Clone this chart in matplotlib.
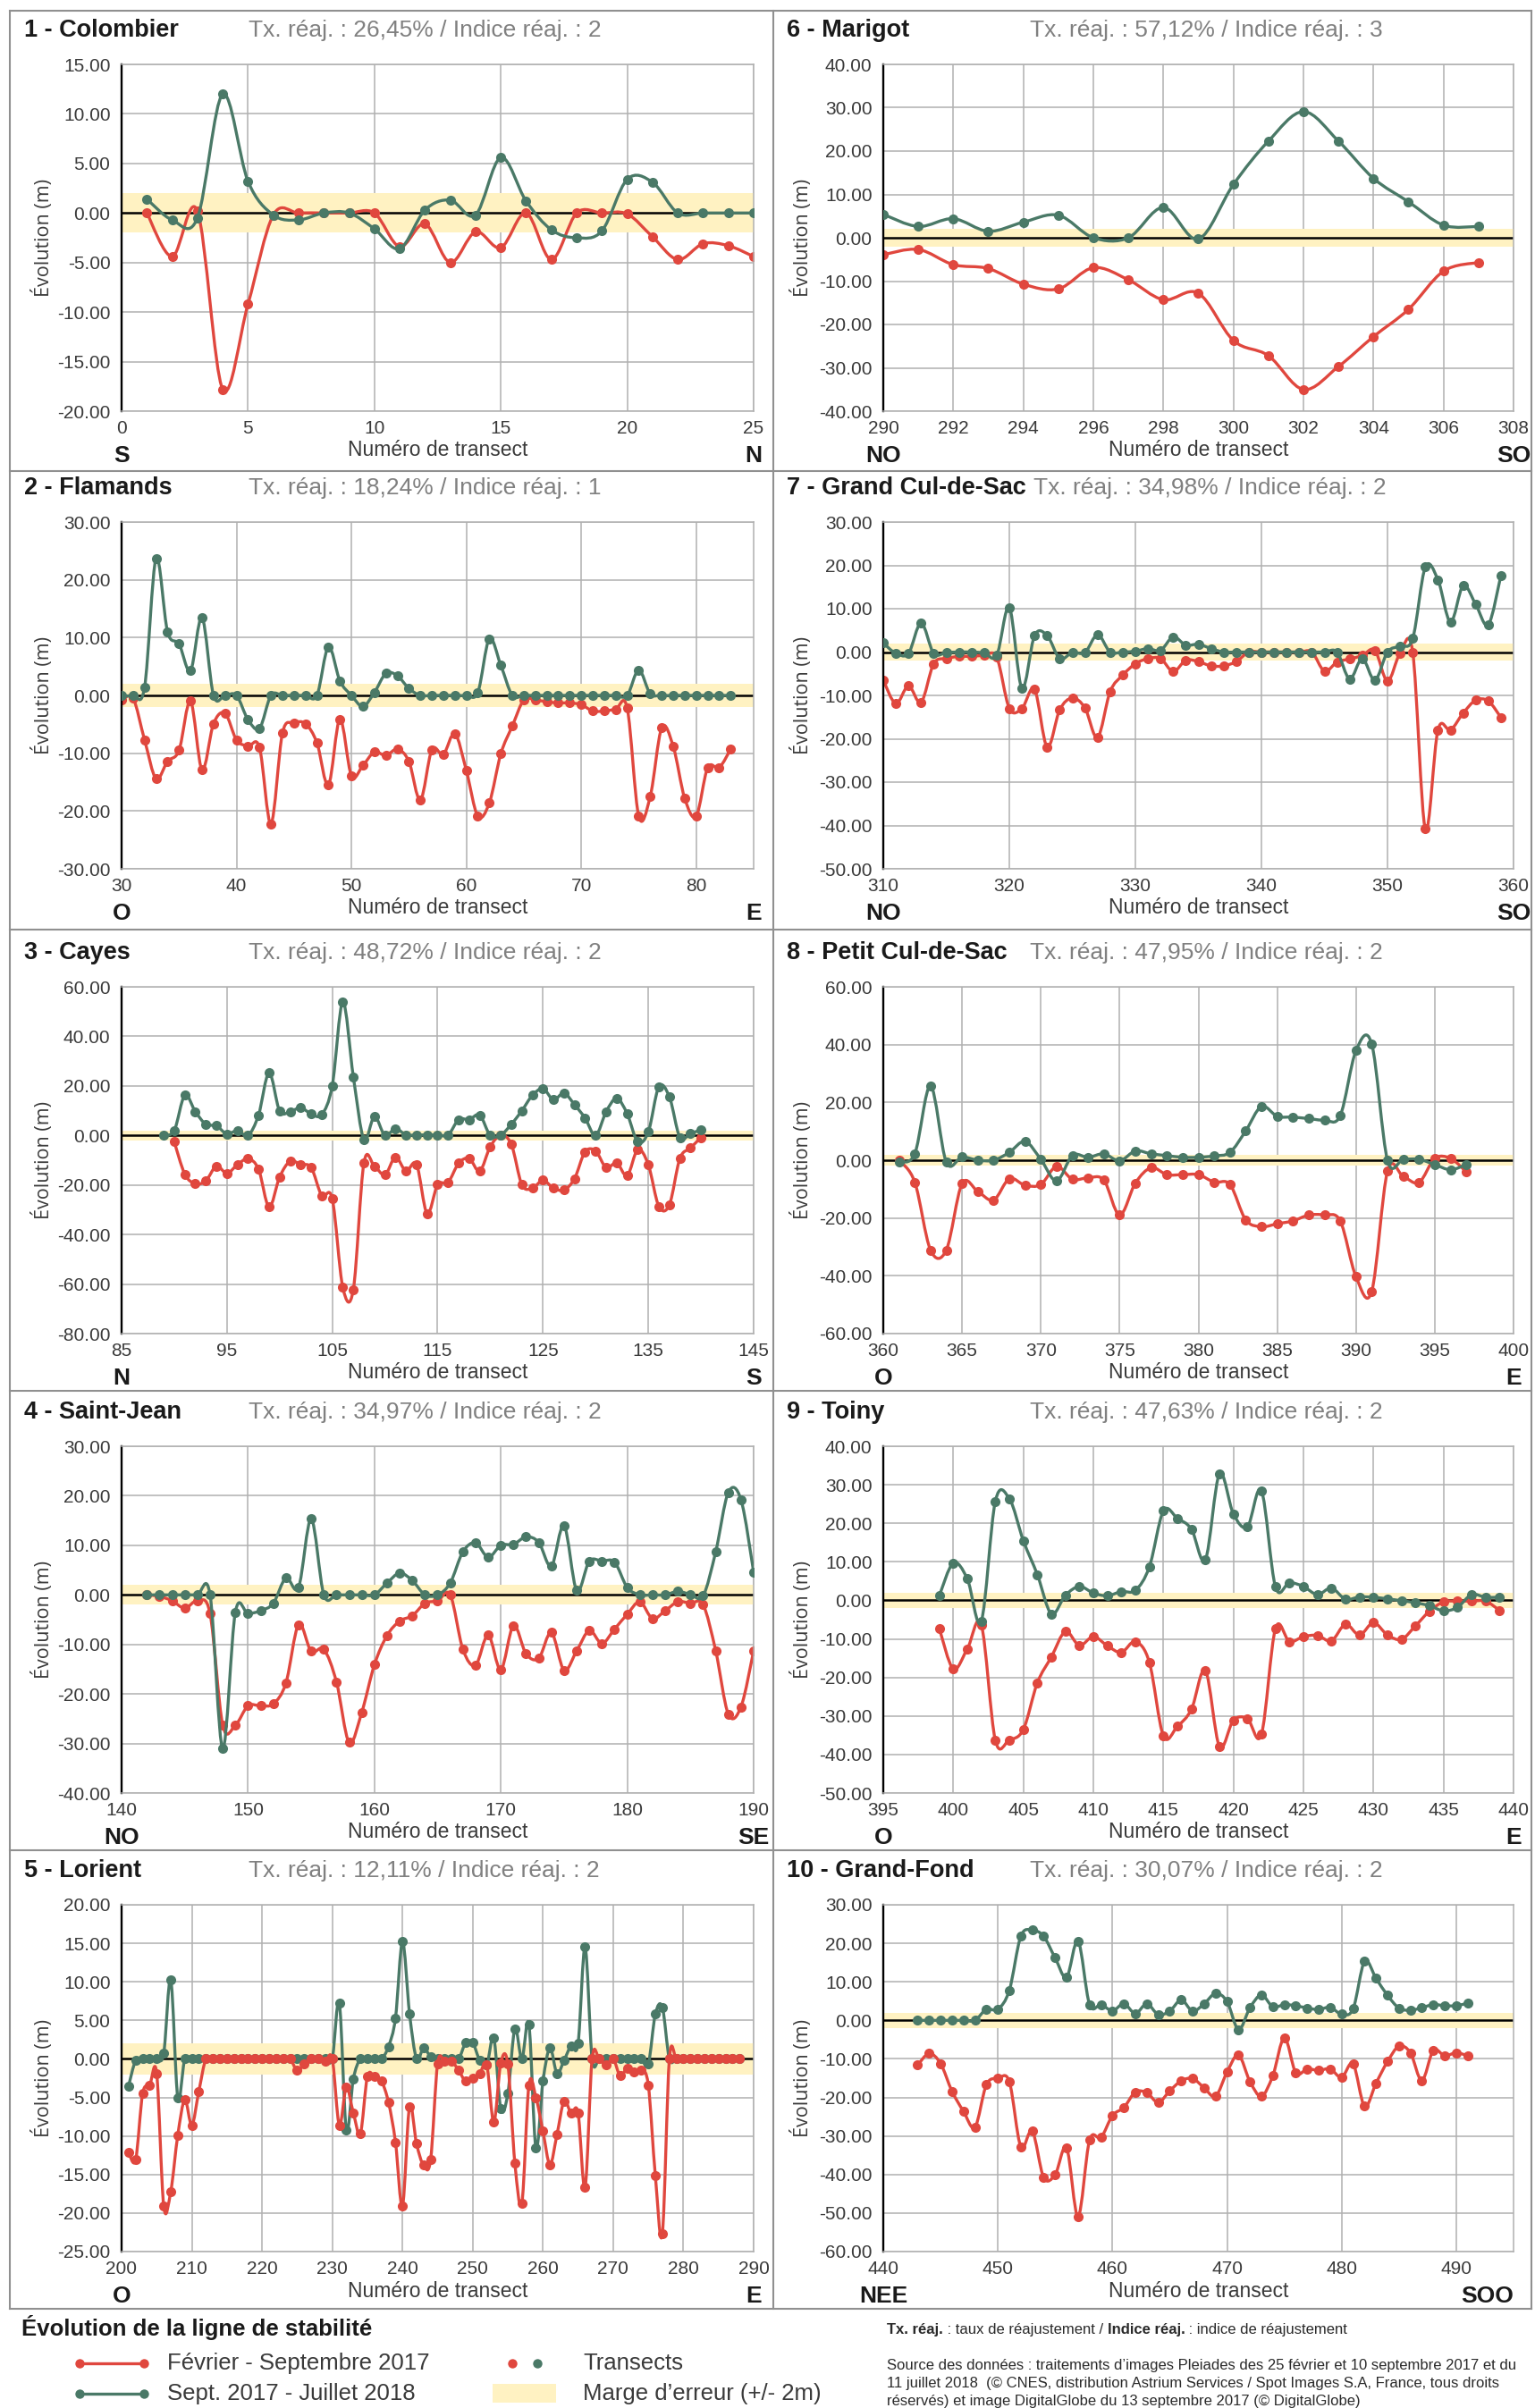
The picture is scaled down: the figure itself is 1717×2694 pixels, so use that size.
import numpy as np
import matplotlib
matplotlib.use("Agg")
import matplotlib.pyplot as plt
from matplotlib.path import Path
from matplotlib.patches import PathPatch, Rectangle
from matplotlib.lines import Line2D
from matplotlib.ticker import FormatStrFormatter

nan = np.nan

# ------------------------------------------------------------
# Données (évolution en m par transect)
# rouge = Février - Septembre 2017, vert = Sept. 2017 - Juillet 2018
# ------------------------------------------------------------
colombier_x = list(range(1, 26))
colombier_rouge = [0.0, -4.4, 0.2, -17.8, -9.2, -0.2, 0.0, 0.0, 0.0, 0.0, -3.4, -1.1, -5.0,
                   -1.9, -3.5, 0.0, -4.7, 0.0, 0.0, -0.1, -2.4, -4.7, -3.1, -3.3, -4.4]
colombier_vert = [1.4, -0.7, -0.5, 12.0, 3.2, -0.2, -0.7, 0.0, 0.0, -1.6, -3.6, 0.3, 1.3,
                  -0.2, 5.6, 1.2, -1.7, -2.5, -1.8, 3.4, 3.1, 0.0, 0.0, 0.0, 0.0]

flamands_x = list(range(30, 84))
flamands_rouge = [-0.8, -0.5, -7.7, -14.4, -11.4, -9.5, -1.0, -12.9, -4.9, -3.1,
                  -7.7, -8.8, -9.0, -22.2, -6.5, -4.8, -4.9, -8.2, -15.5, -4.1,
                  -13.9, -12.1, -9.8, -10.4, -9.3, -11.4, -18.1, -9.4, -10.2, -6.6,
                  -13.0, -20.9, -18.6, -10.1, -5.3, -0.8, -0.8, -1.1, -1.3, -1.3,
                  -1.6, -2.7, -2.7, -2.4, -2.2, -20.9, -17.5, -5.6, -8.8, -17.8,
                  -20.9, -12.5, -12.5, -9.3]
flamands_vert = [0, 0, 1.4, 23.7, 11.0, 8.9, 4.3, 13.5, 0, 0,
                 0, -4.2, -5.7, 0, 0, 0, 0, 0, 8.4, 2.5,
                 0, -1.9, 0.5, 3.8, 3.4, 1.2, 0, 0, 0, 0,
                 0, 0.5, 9.8, 5.2, 0, 0, 0, 0, 0, 0,
                 0, 0, 0, 0, 0, 4.4, 0.3, 0, 0, 0,
                 0, 0, 0, 0]

cayes_x = list(range(89, 141))
cayes_rouge = [nan, -2.6, -15.6, -19.5, -18.3, -12.4, -15.3, -11.8, -9.4, -13.6,
               -28.9, -16.8, -10.4, -11.7, -13.0, -24.3, -25.6, -61.4, -62.2, -11.2,
               -12.4, -15.9, -8.8, -14.4, -11.7, -31.5, -19.9, -18.9, -11.2, -9.3,
               -14.4, -4.5, 0, -3.6, -19.9, -21.3, -18.1, -21.3, -22.0, -17.4,
               -6.6, -6.3, -13.0, -11.1, -16.2, -5.7, -11.8, -28.6, -28.0, -9.3,
               -5.1, -0.8]
cayes_vert = [0, 2.0, 16.2, 9.6, 4.5, 3.9, 0.6, 2.0, 0, 8.2,
              25.3, 9.9, 9.6, 11.2, 8.7, 8.4, 20.1, 53.9, 23.7, -1.6,
              7.6, 0, 2.8, 0.2, 0.2, 0.2, 0.2, 0.2, 6.4, 6.4,
              8.2, 0, 0.2, 4.5, 10.0, 16.2, 18.9, 14.4, 17.1, 12.4,
              7.0, 0, 9.6, 15.0, 8.7, -2.6, 1.4, 19.6, 15.6, -0.8,
              0.8, 2.2]

stjean_x = list(range(142, 191))
stjean_rouge = [0, -0.3, -1.2, -2.7, -1.2, -3.8, -26.3, -26.3, -22.4, -22.4,
                -22.0, -17.8, -6.0, -11.4, -11.0, -17.6, -29.8, -23.7, -14.1, -8.2,
                -5.3, -4.2, -1.7, -1.2, 0, -11.0, -14.2, -8.1, -15.1, -6.2,
                -11.9, -12.8, -7.6, -15.2, -11.3, -7.2, -9.8, -6.9, -3.9, -1.4,
                -4.8, -3.2, -1.4, -1.7, -2.0, -11.3, -24.1, -22.6, -11.3]
stjean_vert = [0, 0, 0, 0, 0, 0, -31.0, -3.5, -3.8, -3.2,
               -1.7, 3.4, 1.5, 15.3, 0, 0, 0, 0, 0, 2.4,
               4.4, 2.9, 0, 0, 2.4, 8.7, 10.5, 7.6, 10.0, 10.2,
               11.7, 10.6, 5.8, 14.0, 0.9, 6.8, 6.8, 6.6, 1.5, 0,
               0, 0, 0.7, 0.1, -0.2, 8.7, 20.7, 19.2, 4.6]

lorient_x = list(range(201, 289))
lorient_rouge = [-12.1, -13.1, -4.5, -3.4, -1.9, -19.1, -17.2, -9.9, -5.3, -8.6,
                 -4.2, 0, 0, 0, 0, 0, 0, 0, 0, 0,
                 0, 0, 0, 0, -1.5, -0.7, 0, 0, -0.3, 0,
                 -8.6, -3.7, -7.0, -9.7, -2.3, -2.3, -2.9, -5.6, -10.8, -19.1,
                 -6.2, -11.0, -13.8, -13.1, -0.6, -0.3, -0.3, -1.5, -2.9, -2.5,
                 -1.9, -0.8, -8.2, -0.5, -0.7, -13.5, -18.7, -3.4, -5.0, -9.4,
                 -13.7, -9.8, -5.5, -7.0, -7.0, -16.7, 0, 0, -0.8, 0,
                 -2.2, -1.2, -1.7, -1.4, -3.4, -15.1, -22.7, 0, 0, 0,
                 0, 0, 0, 0, 0, 0, 0, 0]
lorient_vert = [-3.5, -0.2, 0, 0, 0, 0.7, 10.3, -5.0, 0, 0,
                0, 0, 0, 0, 0, 0, 0, 0, 0, 0,
                0, 0, 0, 0, 0, 0, 0, 0, 0, 0,
                7.3, -9.2, -2.6, 0, 0, 0, 0, 1.6, 5.3, 15.2,
                5.9, 0, 1.4, 0.3, 0, 0, 0, 0, 2.1, 2.1,
                -0.2, -0.8, 2.7, -6.5, -4.5, 3.9, 0, 4.5, -11.6, -2.9,
                1.4, -1.9, -0.2, 1.7, 2.0, 14.5, 0, 0, 0, 0,
                0, 0, 0, 0, -0.7, 5.8, 6.7, 0, 0, 0,
                0, 0, 0, 0, 0, 0, 0, 0]

marigot_x = list(range(290, 308))
marigot_rouge = [-3.9, -2.7, -6.2, -7.1, -10.7, -11.8, -6.9, -9.7, -14.3, -12.8,
                 -23.7, -27.2, -35.0, -29.7, -22.8, -16.5, -7.7, -5.7]
marigot_vert = [5.4, 2.6, 4.4, 1.5, 3.6, 5.2, 0.0, 0.0, 7.0, -0.3,
                12.3, 22.3, 29.1, 22.3, 13.7, 8.3, 2.9, 2.6]

gcds_x = list(range(310, 360))
gcds_rouge = [-6.5, -11.9, -7.8, -11.6, -2.7, -1.5, -1.0, -1.0, -0.8, -1.2,
              -13.0, -13.0, -8.6, -21.9, -13.3, -10.6, -12.9, -19.7, -9.1, -5.3,
              -2.7, -1.5, -1.5, -4.5, -1.9, -2.2, -3.2, -3.2, -2.2, 0,
              0, 0, 0, 0, 0, -4.4, -2.3, -1.6, -0.8, 0.4,
              -6.7, -0.3, 0, -40.8, -18.0, -18.0, -14.1, -11.1, -11.3, -15.1]
gcds_vert = [2.1, -0.3, -0.3, 6.7, -0.3, -0.1, 0, 0, -0.2, -0.8,
             10.3, -8.4, 3.8, 3.8, -1.5, -0.1, -0.1, 4.0, 0, 0,
             0.2, 0.8, 0.4, 3.5, 1.6, 1.8, 0.8, 0, 0, 0,
             0, 0, 0, 0, 0, 0, 0, -6.2, -1.5, -6.5,
             0, 1.4, 3.1, 19.6, 16.7, 6.9, 15.3, 11.0, 6.3, 17.7]

pcds_x = list(range(361, 398))
pcds_rouge = [0, -7.6, -31.1, -31.1, -8.1, -10.8, -13.8, -6.4, -8.7, -8.4,
              -2.1, -6.6, -6.1, -6.9, -19.0, -7.9, -2.6, -5.0, -5.0, -5.0,
              -7.6, -8.4, -20.6, -23.0, -22.0, -21.0, -19.0, -19.0, -21.0, -40.3,
              -45.4, -3.8, -5.6, -7.7, 0.6, 0.6, -4.0]
pcds_vert = [-0.5, 2.2, 25.7, -0.7, 1.1, 0, 0, 2.7, 6.5, 0.3,
             -7.2, 1.6, 1.0, 2.2, -0.2, 3.2, 2.2, 1.6, 1.0, 1.0,
             1.5, 2.7, 10.1, 18.6, 15.2, 14.9, 14.4, 13.9, 15.4, 37.9,
             40.2, 0, 0.3, 0.3, -1.5, -3.3, -1.5]

toiny_x = list(range(399, 440))
toiny_rouge = [-7.3, -17.8, -12.6, -6.3, -36.3, -36.2, -33.5, -21.4, -14.7, -8.1,
               -11.7, -9.4, -11.8, -13.5, -10.7, -16.1, -35.2, -32.7, -28.3, -18.2,
               -37.9, -31.1, -30.7, -34.8, -7.3, -10.7, -9.4, -9.1, -10.5, -6.2,
               -9.0, -5.8, -9.0, -10.1, -6.6, -2.8, -0.4, -0.2, -0.2, -0.2,
               -2.6]
toiny_vert = [1.2, 9.7, 5.6, -5.4, 25.7, 26.4, 15.5, 6.7, -3.5, 1.3,
              3.6, 1.9, 1.2, 2.3, 2.6, 8.7, 23.2, 21.3, 18.5, 10.6,
              32.8, 22.4, 19.1, 28.5, 3.5, 4.6, 3.6, 1.5, 3.2, 0.3,
              0.9, 0.8, 0.4, -0.1, -0.6, -1.4, -2.7, -1.8, 1.5, 0.8,
              0.8]

grandfond_x = list(range(443, 492))
grandfond_rouge = [-11.6, -8.6, -11.2, -18.4, -23.6, -27.7, -16.7, -15.1, -15.9, -32.8,
                   -28.7, -40.8, -40.0, -33.1, -50.9, -31.1, -30.4, -24.7, -22.6, -18.6,
                   -18.8, -21.3, -18.3, -15.7, -15.1, -17.5, -19.7, -13.4, -9.0, -15.9,
                   -19.7, -14.3, -4.5, -13.6, -12.6, -13.0, -12.6, -14.8, -11.3, -22.3,
                   -16.3, -10.7, -6.7, -8.4, -15.6, -7.8, -9.2, -8.4, -9.2]
grandfond_vert = [0, 0, 0, 0, 0, 0, 2.9, 2.9, 7.8, 21.8,
                  23.4, 21.8, 16.2, 11.2, 20.6, 4.1, 4.1, 2.5, 4.3, 1.8,
                  4.3, 1.5, 2.4, 5.3, 2.4, 4.3, 7.0, 4.9, -2.4, 3.3,
                  6.6, 3.5, 4.1, 3.8, 3.2, 2.8, 3.4, 1.6, 3.0, 15.3,
                  10.9, 6.5, 3.2, 2.6, 3.3, 4.1, 3.8, 3.8, 4.5]

titres = ["1 - Colombier", "2 - Flamands", "3 - Cayes", "4 - Saint-Jean", "5 - Lorient",
          "6 - Marigot", "7 - Grand Cul-de-Sac", "8 - Petit Cul-de-Sac", "9 - Toiny",
          "10 - Grand-Fond"]
taux = ["26,45%", "18,24%", "48,72%", "34,97%", "12,11%",
        "57,12%", "34,98%", "47,95%", "47,63%", "30,07%"]
indices = ["2", "1", "2", "2", "2", "3", "2", "2", "2", "2"]
directions = [("S", "N"), ("O", "E"), ("N", "S"), ("NO", "SE"), ("O", "E"),
              ("NO", "SO"), ("NO", "SO"), ("O", "E"), ("O", "E"), ("NEE", "SOO")]
# (xmin, xmax, pas x, dernier tick x, ymin, ymax, pas y)
echelles = [(0, 25, 5, 25, -20, 15, 5), (30, 85, 10, 80, -30, 30, 10),
            (85, 145, 10, 145, -80, 60, 20), (140, 190, 10, 190, -40, 30, 10),
            (200, 290, 10, 290, -25, 20, 5), (290, 308, 2, 308, -40, 40, 10),
            (310, 360, 10, 360, -50, 30, 10), (360, 400, 5, 400, -60, 60, 20),
            (395, 440, 5, 440, -50, 40, 10), (440, 495, 10, 490, -60, 30, 10)]
series = [(colombier_x, colombier_rouge, colombier_vert), (flamands_x, flamands_rouge, flamands_vert),
          (cayes_x, cayes_rouge, cayes_vert), (stjean_x, stjean_rouge, stjean_vert),
          (lorient_x, lorient_rouge, lorient_vert), (marigot_x, marigot_rouge, marigot_vert),
          (gcds_x, gcds_rouge, gcds_vert), (pcds_x, pcds_rouge, pcds_vert),
          (toiny_x, toiny_rouge, toiny_vert), (grandfond_x, grandfond_rouge, grandfond_vert)]
rouge_dessus = [False, False, False, False, True, False, False, False, False, False]

for xs, r, v in series:
    assert len(xs) == len(r) == len(v), (xs[0], len(xs), len(r), len(v))

# ------------------------------------------------------------
# Styles
# ------------------------------------------------------------
W, H = 1717, 2694
ROUGE = '#e0473e'
VERT = '#4a7967'
JAUNE = '#fff2c2'
GRILLE = '#b0b0b0'
CADRE = '#909090'
GRIS_TXT = '#3a3a3a'

plt.rcParams['font.family'] = ['Liberation Sans', 'DejaVu Sans']
plt.rcParams['axes.unicode_minus'] = False

fig = plt.figure(figsize=(W / 100, H / 100), dpi=100)
rend = fig.canvas.get_renderer()


def fx(x):
    return x / W


def fy(y):
    return 1 - y / H


def courbe_lissee(ax, x, y, couleur, z):
    # ligne lissée façon tableur (bezier de Catmull-Rom) + points des transects
    x = np.asarray(x, float)
    y = np.asarray(y, float)
    ok = ~np.isnan(y)
    runs, cur = [], []
    for i in range(len(x)):
        if ok[i]:
            cur.append(i)
        elif cur:
            runs.append(cur)
            cur = []
    if cur:
        runs.append(cur)
    for run in runs:
        pts = np.column_stack([x[run], y[run]])
        n = len(pts)
        verts = [pts[0]]
        codes = [Path.MOVETO]
        for i in range(n - 1):
            p0 = pts[i - 1] if i > 0 else pts[i]
            p1, p2 = pts[i], pts[i + 1]
            p3 = pts[i + 2] if i + 2 < n else pts[i + 1]
            verts += [p1 + (p2 - p0) / 6, p2 - (p3 - p1) / 6, p2]
            codes += [Path.CURVE4] * 3
        ax.add_patch(PathPatch(Path(verts, codes), fill=False, edgecolor=couleur,
                               lw=2.4, zorder=z, joinstyle='round', capstyle='round'))
    ax.plot(x, y, 'o', ms=8, color=couleur, markeredgewidth=0, zorder=z + 0.1)


COLS = [(136, 843), (988, 1693)]
ROWS = [(72, 460), (584, 972), (1104, 1492), (1618, 2006), (2131, 2519)]
TITRE_X = [27, 880]
SOUS_X = [278, 1152]
YLAB_X = [48, 897]

for k in range(10):
    col, row = divmod(k, 5)
    x0, x1 = COLS[col]
    y0, y1 = ROWS[row]
    ax = fig.add_axes([fx(x0), fy(y1), fx(x1 - x0), (y1 - y0) / H])
    xmin, xmax, xpas, xder, ymin, ymax, ypas = echelles[k]
    xs, r, v = series[k]

    ax.axhspan(-2, 2, color=JAUNE, lw=0, zorder=0.6)
    ax.axhline(0, color='black', lw=1.8, zorder=1.5)
    if rouge_dessus[k]:
        courbe_lissee(ax, xs, v, VERT, 2)
        courbe_lissee(ax, xs, r, ROUGE, 3)
    else:
        courbe_lissee(ax, xs, r, ROUGE, 2)
        courbe_lissee(ax, xs, v, VERT, 3)

    ax.set_xlim(xmin, xmax)
    ax.set_ylim(ymin, ymax)
    ax.set_xticks(np.arange(xmin, xder + 0.1, xpas))
    ax.set_yticks(np.arange(ymin, ymax + 0.1, ypas))
    ax.yaxis.set_major_formatter(FormatStrFormatter('%.2f'))
    ax.set_axisbelow(True)
    ax.grid(True, color=GRILLE, lw=1.1)
    ax.tick_params(length=0, labelsize=15, labelcolor=GRIS_TXT)
    ax.tick_params(axis='y', pad=9)
    ax.tick_params(axis='x', pad=7)
    for s in ['top', 'right', 'bottom']:
        ax.spines[s].set_color(GRILLE)
        ax.spines[s].set_linewidth(1.1)
    ax.spines['left'].set_color('black')
    ax.spines['left'].set_linewidth(1.7)

    # titres
    t = fig.text(fx(TITRE_X[col]), fy(y0 - 38), titres[k], fontsize=19.5,
                 fontweight='bold', color='#1a1a1a', va='center', ha='left')
    fin = t.get_window_extent(rend).x1 + 8
    sx = max(SOUS_X[col], fin)
    fig.text(sx / W, fy(y0 - 38), "Tx. réaj. : %s / Indice réaj. : %s" % (taux[k], indices[k]),
             fontsize=19, color='#808080', va='center', ha='left')

    # étiquettes d'axes
    fig.text(fx(YLAB_X[col]), fy((y0 + y1) / 2), "Évolution (m)", rotation=90,
             family=['Open Sans', 'DejaVu Sans'], fontsize=15.5, color=GRIS_TXT,
             va='center', ha='center')
    fig.text(fx((x0 + x1) / 2), fy(y1 + 44), "Numéro de transect", fontsize=16.5,
             color=GRIS_TXT, va='center', ha='center')
    gauche, droite = directions[k]
    fig.text(fx(x0), fy(y1 + 50), gauche, fontsize=19, fontweight='bold',
             color='#1a1a1a', va='center', ha='center')
    fig.text(fx(min(x1, 1708)), fy(y1 + 50), droite, fontsize=19, fontweight='bold',
             color='#1a1a1a', va='center', ha='center' if len(droite) < 3 else 'right')

# cadres des vignettes
for yy in [12, 527, 1040, 1556, 2070, 2583]:
    fig.add_artist(Line2D([fx(11), fx(1713)], [fy(yy), fy(yy)], color=CADRE, lw=1.5))
for xx in [11, 865, 1713]:
    fig.add_artist(Line2D([fx(xx), fx(xx)], [fy(12), fy(2583)], color=CADRE, lw=1.5))

# ------------------------------------------------------------
# Légende
# ------------------------------------------------------------
fig.text(fx(24), fy(2604), "Évolution de la ligne de stabilité", fontsize=18.5,
         fontweight='bold', color='#1a1a1a', va='center')
for yy, coul, lab in [(2644, ROUGE, "Février - Septembre 2017"),
                      (2678, VERT, "Sept. 2017 - Juillet 2018")]:
    fig.add_artist(Line2D([fx(89), fx(161)], [fy(yy), fy(yy)], color=coul, lw=2.4,
                          marker='o', ms=7.5, markeredgewidth=0))
    fig.text(fx(187), fy(yy), lab, fontsize=18.5, color=GRIS_TXT, va='center')
fig.add_artist(Line2D([fx(573)], [fy(2644)], color=ROUGE, marker='o', ms=7.5, markeredgewidth=0))
fig.add_artist(Line2D([fx(601)], [fy(2644)], color=VERT, marker='o', ms=7.5, markeredgewidth=0))
fig.text(fx(652), fy(2644), "Transects", fontsize=18.5, color=GRIS_TXT, va='center')
fig.add_artist(Rectangle((fx(551), fy(2688)), fx(71), 21 / H, color=JAUNE, lw=0))
fig.text(fx(652), fy(2678), "Marge d\u2019erreur (+/- 2m)", fontsize=18.5,
         color=GRIS_TXT, va='center')

# note sur les abréviations (gras / normal)
xc = 992
for morceau, gras in [("Tx. réaj.", True), (" : taux de réajustement / ", False),
                      ("Indice réaj.", True), (" : indice de réajustement", False)]:
    t = fig.text(fx(xc), fy(2606), morceau, fontsize=12, color='#2a2a2a',
                 fontweight='bold' if gras else 'normal', va='center')
    xc = t.get_window_extent(rend).x1

source = ["Source des données : traitements d\u2019images Pleiades des 25 février et 10 septembre 2017 et du",
          "11 juillet 2018  (© CNES, distribution Astrium Services / Spot Images S.A, France, tous droits",
          "réservés) et image DigitalGlobe du 13 septembre 2017 (© DigitalGlobe)"]
for i, ligne in enumerate(source):
    fig.text(fx(992), fy(2646 + 20 * i), ligne, fontsize=12, color='#2a2a2a', va='center')

fig.savefig("out.png", dpi=100)
